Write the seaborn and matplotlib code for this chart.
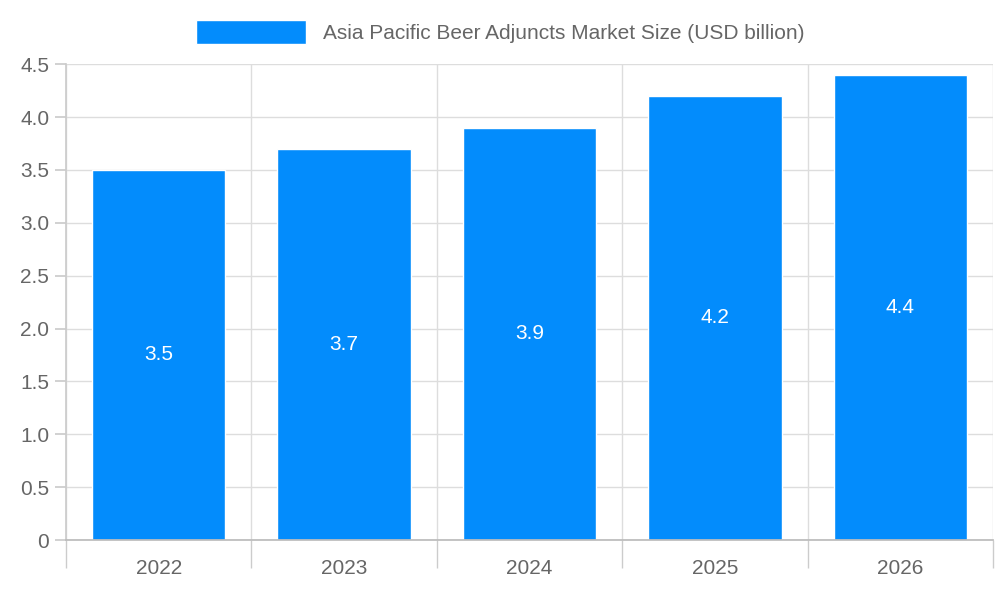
import matplotlib
matplotlib.use("Agg")
import matplotlib.pyplot as plt
import seaborn as sns
import pandas as pd
from matplotlib.patches import Patch
from matplotlib.ticker import FixedLocator

years = ["2022", "2023", "2024", "2025", "2026"]
values = [3.5, 3.7, 3.9, 4.2, 4.4]
yticks = [0, 0.5, 1.0, 1.5, 2.0, 2.5, 3.0, 3.5, 4.0, 4.5]
ylabels = ["0", "0.5", "1.0", "1.5", "2.0", "2.5", "3.0", "3.5", "4.0", "4.5"]
series = "Asia Pacific Beer Adjuncts Market Size (USD billion)"
color = "#038cfc"
gray = "#666666"

sns.set_theme(style="white")
plt.rcParams['font.family'] = ['Liberation Sans', 'DejaVu Sans']

df = pd.DataFrame({"year": years, "value": values})
fig = plt.figure(figsize=(10, 6), dpi=100)
ax = fig.add_axes([0.066, 0.10, 0.927, 0.793])
sns.barplot(data=df, x="year", y="value", color=color, saturation=1, width=0.72, ax=ax)

ax.set_xlim(-0.5, len(years) - 0.5)
ax.set_ylim(0, 4.5)
ax.set_yticks(yticks)
ax.set_yticklabels(ylabels, color=gray, fontsize=15)
ax.set_xticks(range(len(years)))
ax.set_xticklabels(years, color=gray, fontsize=15)
ax.set_xlabel("")
ax.set_ylabel("")

ax.xaxis.set_minor_locator(FixedLocator([i - 0.5 for i in range(len(years) + 1)]))
ax.tick_params(axis="x", which="major", length=0, pad=14)
ax.tick_params(axis="x", which="minor", length=20, color="#cccccc", width=1, bottom=True)
ax.tick_params(axis="y", length=8, color="#cccccc", left=True, pad=4)
ax.grid(True, which="major", axis="y", color="#dddddd", linewidth=1)
ax.grid(True, which="minor", axis="x", color="#dddddd", linewidth=1)
ax.set_axisbelow(True)
for s in ["top", "right"]:
    ax.spines[s].set_visible(False)
ax.spines["left"].set_color("#cccccc")
ax.spines["bottom"].set_color("#bbbbbb")

for i, v in enumerate(values):
    ax.text(i, v / 2, f"{v}", ha="center", va="center", color="white", fontsize=15)

fig.legend(handles=[Patch(facecolor=color, label=series)], loc="center",
           bbox_to_anchor=(0.5, 0.947), frameon=False, fontsize=15,
           handlelength=5.3, handleheight=1.4, labelcolor=gray)
fig.savefig("out.png", dpi=100)
